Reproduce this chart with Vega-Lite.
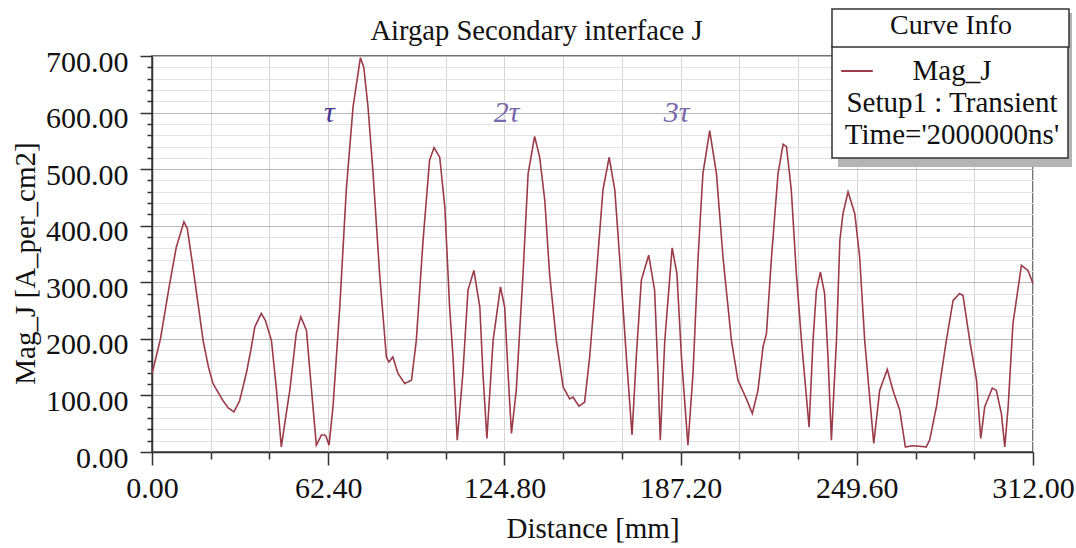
{
  "$schema": "https://vega.github.io/schema/vega-lite/v6.json",
  "width": 881,
  "height": 396,
  "autosize": "none",
  "padding": {"left": 152, "top": 56, "right": 43, "bottom": 96},
  "background": "white",
  "config": {
    "view": {"stroke": "#444", "strokeWidth": 1.5},
    "font": "Liberation Serif",
    "legend": {"strokeWidth": 1.5}
  },
  "title": {
    "text": "Airgap Secondary interface J",
    "font": "Liberation Serif",
    "fontSize": 28.6,
    "fontWeight": "normal",
    "color": "#111",
    "anchor": "middle",
    "dx": -56,
    "offset": 0,
    "dy": 60,
    "baseline": "alphabetic"
  },
  "datasets": {
    "curve": [
      {"distance": 0, "mag_j": 138, "series": "Mag_J"},
      {"distance": 3, "mag_j": 200, "series": "Mag_J"},
      {"distance": 6, "mag_j": 290, "series": "Mag_J"},
      {"distance": 8.6, "mag_j": 362, "series": "Mag_J"},
      {"distance": 10, "mag_j": 385, "series": "Mag_J"},
      {"distance": 11.3, "mag_j": 407, "series": "Mag_J"},
      {"distance": 12.5, "mag_j": 395, "series": "Mag_J"},
      {"distance": 14.5, "mag_j": 327, "series": "Mag_J"},
      {"distance": 16.5, "mag_j": 255, "series": "Mag_J"},
      {"distance": 18.1, "mag_j": 197, "series": "Mag_J"},
      {"distance": 20, "mag_j": 150, "series": "Mag_J"},
      {"distance": 21.6, "mag_j": 121, "series": "Mag_J"},
      {"distance": 25.1, "mag_j": 91, "series": "Mag_J"},
      {"distance": 27, "mag_j": 78, "series": "Mag_J"},
      {"distance": 29, "mag_j": 71, "series": "Mag_J"},
      {"distance": 31, "mag_j": 90, "series": "Mag_J"},
      {"distance": 33.4, "mag_j": 139, "series": "Mag_J"},
      {"distance": 35, "mag_j": 180, "series": "Mag_J"},
      {"distance": 36.4, "mag_j": 221, "series": "Mag_J"},
      {"distance": 38.7, "mag_j": 245, "series": "Mag_J"},
      {"distance": 40.2, "mag_j": 232, "series": "Mag_J"},
      {"distance": 42.3, "mag_j": 197, "series": "Mag_J"},
      {"distance": 44.1, "mag_j": 109, "series": "Mag_J"},
      {"distance": 45.8, "mag_j": 9, "series": "Mag_J"},
      {"distance": 47.3, "mag_j": 60, "series": "Mag_J"},
      {"distance": 48.8, "mag_j": 109, "series": "Mag_J"},
      {"distance": 51.1, "mag_j": 210, "series": "Mag_J"},
      {"distance": 52.7, "mag_j": 239, "series": "Mag_J"},
      {"distance": 54.7, "mag_j": 215, "series": "Mag_J"},
      {"distance": 56.5, "mag_j": 109, "series": "Mag_J"},
      {"distance": 58.2, "mag_j": 12, "series": "Mag_J"},
      {"distance": 59.2, "mag_j": 22, "series": "Mag_J"},
      {"distance": 60, "mag_j": 30, "series": "Mag_J"},
      {"distance": 61.2, "mag_j": 30, "series": "Mag_J"},
      {"distance": 61.7, "mag_j": 27, "series": "Mag_J"},
      {"distance": 62.7, "mag_j": 12, "series": "Mag_J"},
      {"distance": 64.1, "mag_j": 80, "series": "Mag_J"},
      {"distance": 66.5, "mag_j": 256, "series": "Mag_J"},
      {"distance": 68.8, "mag_j": 463, "series": "Mag_J"},
      {"distance": 71.2, "mag_j": 610, "series": "Mag_J"},
      {"distance": 73.8, "mag_j": 697, "series": "Mag_J"},
      {"distance": 75, "mag_j": 680, "series": "Mag_J"},
      {"distance": 76.5, "mag_j": 610, "series": "Mag_J"},
      {"distance": 78.3, "mag_j": 492, "series": "Mag_J"},
      {"distance": 80.6, "mag_j": 315, "series": "Mag_J"},
      {"distance": 83, "mag_j": 168, "series": "Mag_J"},
      {"distance": 83.9, "mag_j": 159, "series": "Mag_J"},
      {"distance": 85.3, "mag_j": 168, "series": "Mag_J"},
      {"distance": 87.1, "mag_j": 139, "series": "Mag_J"},
      {"distance": 89.5, "mag_j": 121, "series": "Mag_J"},
      {"distance": 91.9, "mag_j": 127, "series": "Mag_J"},
      {"distance": 93.6, "mag_j": 197, "series": "Mag_J"},
      {"distance": 96, "mag_j": 374, "series": "Mag_J"},
      {"distance": 98.3, "mag_j": 516, "series": "Mag_J"},
      {"distance": 99.9, "mag_j": 538, "series": "Mag_J"},
      {"distance": 101.9, "mag_j": 521, "series": "Mag_J"},
      {"distance": 103.7, "mag_j": 433, "series": "Mag_J"},
      {"distance": 105.4, "mag_j": 256, "series": "Mag_J"},
      {"distance": 106.6, "mag_j": 168, "series": "Mag_J"},
      {"distance": 108.1, "mag_j": 21, "series": "Mag_J"},
      {"distance": 110.1, "mag_j": 139, "series": "Mag_J"},
      {"distance": 111.9, "mag_j": 286, "series": "Mag_J"},
      {"distance": 114, "mag_j": 321, "series": "Mag_J"},
      {"distance": 116.1, "mag_j": 256, "series": "Mag_J"},
      {"distance": 117.2, "mag_j": 139, "series": "Mag_J"},
      {"distance": 118.6, "mag_j": 24, "series": "Mag_J"},
      {"distance": 120.8, "mag_j": 197, "series": "Mag_J"},
      {"distance": 123.4, "mag_j": 292, "series": "Mag_J"},
      {"distance": 124.9, "mag_j": 256, "series": "Mag_J"},
      {"distance": 126.1, "mag_j": 139, "series": "Mag_J"},
      {"distance": 127.3, "mag_j": 33, "series": "Mag_J"},
      {"distance": 129, "mag_j": 109, "series": "Mag_J"},
      {"distance": 131.4, "mag_j": 315, "series": "Mag_J"},
      {"distance": 133.2, "mag_j": 492, "series": "Mag_J"},
      {"distance": 135.5, "mag_j": 558, "series": "Mag_J"},
      {"distance": 137.3, "mag_j": 521, "series": "Mag_J"},
      {"distance": 139.1, "mag_j": 445, "series": "Mag_J"},
      {"distance": 140.8, "mag_j": 315, "series": "Mag_J"},
      {"distance": 143.2, "mag_j": 197, "series": "Mag_J"},
      {"distance": 145.6, "mag_j": 115, "series": "Mag_J"},
      {"distance": 147.9, "mag_j": 94, "series": "Mag_J"},
      {"distance": 149.1, "mag_j": 97, "series": "Mag_J"},
      {"distance": 151.2, "mag_j": 81, "series": "Mag_J"},
      {"distance": 153.2, "mag_j": 88, "series": "Mag_J"},
      {"distance": 155, "mag_j": 168, "series": "Mag_J"},
      {"distance": 157.4, "mag_j": 315, "series": "Mag_J"},
      {"distance": 159.7, "mag_j": 463, "series": "Mag_J"},
      {"distance": 161.9, "mag_j": 521, "series": "Mag_J"},
      {"distance": 163.9, "mag_j": 463, "series": "Mag_J"},
      {"distance": 165.6, "mag_j": 345, "series": "Mag_J"},
      {"distance": 168, "mag_j": 168, "series": "Mag_J"},
      {"distance": 170, "mag_j": 30, "series": "Mag_J"},
      {"distance": 171.5, "mag_j": 168, "series": "Mag_J"},
      {"distance": 173.3, "mag_j": 304, "series": "Mag_J"},
      {"distance": 175.9, "mag_j": 348, "series": "Mag_J"},
      {"distance": 178, "mag_j": 286, "series": "Mag_J"},
      {"distance": 179.2, "mag_j": 139, "series": "Mag_J"},
      {"distance": 180, "mag_j": 21, "series": "Mag_J"},
      {"distance": 181.6, "mag_j": 197, "series": "Mag_J"},
      {"distance": 184.2, "mag_j": 361, "series": "Mag_J"},
      {"distance": 185.9, "mag_j": 315, "series": "Mag_J"},
      {"distance": 187.5, "mag_j": 168, "series": "Mag_J"},
      {"distance": 189.8, "mag_j": 12, "series": "Mag_J"},
      {"distance": 191.6, "mag_j": 139, "series": "Mag_J"},
      {"distance": 193.4, "mag_j": 345, "series": "Mag_J"},
      {"distance": 195.1, "mag_j": 492, "series": "Mag_J"},
      {"distance": 197.5, "mag_j": 568, "series": "Mag_J"},
      {"distance": 199.9, "mag_j": 492, "series": "Mag_J"},
      {"distance": 202.2, "mag_j": 345, "series": "Mag_J"},
      {"distance": 205.2, "mag_j": 197, "series": "Mag_J"},
      {"distance": 207.5, "mag_j": 127, "series": "Mag_J"},
      {"distance": 210.5, "mag_j": 94, "series": "Mag_J"},
      {"distance": 212.6, "mag_j": 68, "series": "Mag_J"},
      {"distance": 214.6, "mag_j": 109, "series": "Mag_J"},
      {"distance": 216.4, "mag_j": 186, "series": "Mag_J"},
      {"distance": 217.6, "mag_j": 209, "series": "Mag_J"},
      {"distance": 219.4, "mag_j": 345, "series": "Mag_J"},
      {"distance": 221.7, "mag_j": 492, "series": "Mag_J"},
      {"distance": 223.5, "mag_j": 544, "series": "Mag_J"},
      {"distance": 224.7, "mag_j": 540, "series": "Mag_J"},
      {"distance": 226.4, "mag_j": 463, "series": "Mag_J"},
      {"distance": 228.2, "mag_j": 315, "series": "Mag_J"},
      {"distance": 230, "mag_j": 197, "series": "Mag_J"},
      {"distance": 232.7, "mag_j": 44, "series": "Mag_J"},
      {"distance": 234.1, "mag_j": 197, "series": "Mag_J"},
      {"distance": 235.3, "mag_j": 286, "series": "Mag_J"},
      {"distance": 236.7, "mag_j": 318, "series": "Mag_J"},
      {"distance": 238.2, "mag_j": 280, "series": "Mag_J"},
      {"distance": 239.4, "mag_j": 168, "series": "Mag_J"},
      {"distance": 240.6, "mag_j": 21, "series": "Mag_J"},
      {"distance": 242.4, "mag_j": 197, "series": "Mag_J"},
      {"distance": 243.6, "mag_j": 374, "series": "Mag_J"},
      {"distance": 244.7, "mag_j": 421, "series": "Mag_J"},
      {"distance": 246.5, "mag_j": 460, "series": "Mag_J"},
      {"distance": 248.9, "mag_j": 421, "series": "Mag_J"},
      {"distance": 250.6, "mag_j": 345, "series": "Mag_J"},
      {"distance": 252.4, "mag_j": 197, "series": "Mag_J"},
      {"distance": 255.6, "mag_j": 15, "series": "Mag_J"},
      {"distance": 257.7, "mag_j": 109, "series": "Mag_J"},
      {"distance": 260.4, "mag_j": 146, "series": "Mag_J"},
      {"distance": 262.4, "mag_j": 109, "series": "Mag_J"},
      {"distance": 264.8, "mag_j": 74, "series": "Mag_J"},
      {"distance": 266.8, "mag_j": 9, "series": "Mag_J"},
      {"distance": 269.5, "mag_j": 11, "series": "Mag_J"},
      {"distance": 274.2, "mag_j": 9, "series": "Mag_J"},
      {"distance": 275.4, "mag_j": 21, "series": "Mag_J"},
      {"distance": 277.8, "mag_j": 80, "series": "Mag_J"},
      {"distance": 281.3, "mag_j": 197, "series": "Mag_J"},
      {"distance": 283.7, "mag_j": 268, "series": "Mag_J"},
      {"distance": 286, "mag_j": 280, "series": "Mag_J"},
      {"distance": 287.2, "mag_j": 277, "series": "Mag_J"},
      {"distance": 289.6, "mag_j": 197, "series": "Mag_J"},
      {"distance": 292, "mag_j": 127, "series": "Mag_J"},
      {"distance": 293.5, "mag_j": 24, "series": "Mag_J"},
      {"distance": 294.9, "mag_j": 80, "series": "Mag_J"},
      {"distance": 297.6, "mag_j": 113, "series": "Mag_J"},
      {"distance": 299, "mag_j": 109, "series": "Mag_J"},
      {"distance": 300.8, "mag_j": 68, "series": "Mag_J"},
      {"distance": 302, "mag_j": 9, "series": "Mag_J"},
      {"distance": 303.2, "mag_j": 80, "series": "Mag_J"},
      {"distance": 304.9, "mag_j": 227, "series": "Mag_J"},
      {"distance": 307.9, "mag_j": 330, "series": "Mag_J"},
      {"distance": 310.2, "mag_j": 321, "series": "Mag_J"},
      {"distance": 312, "mag_j": 298, "series": "Mag_J"}
    ],
    "marks": [
      {"distance": 62.8, "mag_j": 583, "t": "τ"},
      {"distance": 125.6, "mag_j": 583, "t": "2τ"},
      {"distance": 185.8, "mag_j": 583, "t": "3τ"}
    ]
  },
  "encoding": {
    "x": {
      "field": "distance",
      "type": "quantitative",
      "scale": {"domain": [0, 312], "nice": false, "zero": false},
      "axis": {
        "title": "Distance [mm]",
        "values": [0, 20.8, 41.6, 62.4, 83.2, 104, 124.8, 145.6, 166.4, 187.2, 208, 228.8, 249.6, 270.4, 291.2, 312],
        "labelExpr": "abs(datum.value/62.4 - round(datum.value/62.4)) < 0.01 ? format(datum.value, '.2f') : ''",
        "labelFont": "Liberation Serif",
        "labelFontSize": 30,
        "labelColor": "#111",
        "labelBaseline": "alphabetic",
        "labelPadding": 32,
        "labelOverlap": false,
        "labelFlush": false,
        "tickSize": {"condition": {"test": "abs(datum.value/62.4 - round(datum.value/62.4)) < 0.01", "value": 13}, "value": 7},
        "tickColor": "#333",
        "tickWidth": 1.5,
        "domainColor": "#333",
        "domainWidth": 1.5,
        "grid": true,
        "gridColor": "#d4d4d4",
        "gridWidth": 1,
        "titleFont": "Liberation Serif",
        "titleFontSize": 29,
        "titleFontWeight": "normal",
        "titleColor": "#111",
        "titleBaseline": "alphabetic",
        "titleY": 85
      }
    },
    "y": {
      "field": "mag_j",
      "type": "quantitative",
      "scale": {"domain": [0, 700], "nice": false, "zero": true},
      "axis": {
        "title": "Mag_J [A_per_cm2]",
        "values": [0, 20, 40, 60, 80, 100, 120, 140, 160, 180, 200, 220, 240, 260, 280, 300, 320, 340, 360, 380, 400, 420, 440, 460, 480, 500, 520, 540, 560, 580, 600, 620, 640, 660, 680, 700],
        "labelExpr": "datum.value % 100 == 0 ? format(datum.value, '.2f') : ''",
        "labelFont": "Liberation Serif",
        "labelFontSize": 30,
        "labelColor": "#111",
        "labelBaseline": "alphabetic",
        "labelOffset": 15,
        "labelPadding": 12,
        "labelOverlap": false,
        "labelFlush": false,
        "tickSize": {"condition": {"test": "datum.value % 100 == 0", "value": 12}, "value": 5},
        "tickColor": "#333",
        "tickWidth": 1.5,
        "domainColor": "#333",
        "domainWidth": 1.5,
        "grid": true,
        "gridColor": {"condition": {"test": "datum.value % 100 == 0", "value": "#b8b8b8"}, "value": "#e2e2e2"},
        "gridWidth": 1,
        "titleFont": "Liberation Serif",
        "titleFontSize": 29,
        "titleFontWeight": "normal",
        "titleColor": "#111",
        "titleBaseline": "alphabetic",
        "titleX": -118,
        "titleY": 207
      }
    }
  },
  "layer": [
    {
      "data": {"name": "curve"},
      "mark": {"type": "line", "color": "#9b3b49", "strokeWidth": 1.6},
      "encoding": {
        "color": {
          "field": "series",
          "type": "nominal",
          "scale": {
            "domain": ["Setup1 : Transient", "Mag_J", "Time='2000000ns'"],
            "range": ["rgba(255,255,255,0)", "#9b3b49", "rgba(255,255,255,0)"]
          },
          "legend": {
            "orient": "none",
            "legendX": 686,
            "legendY": -43,
            "direction": "vertical",
            "values": ["Setup1 : Transient"],
            "title": null,
            "labelExpr": "'.'",
            "labelFont": "Liberation Serif",
            "labelFontSize": 10,
            "labelColor": "rgba(0,0,0,0)",
            "labelOffset": 77,
            "symbolType": "square",
            "symbolSize": 23716,
            "symbolStrokeWidth": 0,
            "symbolOpacity": 0,
            "padding": 0,
            "fillColor": "#b4b4b4",
            "strokeColor": "rgba(0,0,0,0)"
          }
        },
        "strokeDash": {
          "field": "series",
          "type": "nominal",
          "scale": {
            "domain": ["Mag_J", "Setup1 : Transient", "Time='2000000ns'"],
            "range": [[1, 0], [0, 1000], [0, 1000]]
          },
          "legend": {
            "orient": "none",
            "legendX": 680,
            "legendY": -10,
            "direction": "vertical",
            "title": null,
            "labelFont": "Liberation Serif",
            "labelFontSize": 29,
            "labelColor": "#111",
            "labelAlign": "center",
            "labelOffset": 78,
            "labelLimit": 400,
            "symbolType": "stroke",
            "symbolSize": 1000,
            "symbolStrokeWidth": 2,
            "symbolStrokeColor": "#9b3b49",
            "rowPadding": 0,
            "padding": 8,
            "fillColor": "white",
            "strokeColor": "#333"
          }
        },
        "opacity": {
          "field": "series",
          "type": "nominal",
          "scale": {
            "domain": ["Time='2000000ns'", "Mag_J", "Setup1 : Transient"],
            "range": [1, 1, 1]
          },
          "legend": {
            "orient": "none",
            "legendX": 680,
            "legendY": -47,
            "direction": "vertical",
            "values": ["Time='2000000ns'"],
            "title": "Curve Info",
            "titleFont": "Liberation Serif",
            "titleFontSize": 28,
            "titleFontWeight": "normal",
            "titleColor": "#111",
            "titleAnchor": "middle",
            "titlePadding": 0,
            "labelExpr": "'.'",
            "labelFont": "Liberation Serif",
            "labelFontSize": 4,
            "labelColor": "rgba(0,0,0,0)",
            "labelOffset": 226,
            "symbolType": "circle",
            "symbolSize": 1,
            "symbolStrokeWidth": 0,
            "symbolOpacity": 0,
            "symbolFillColor": "rgba(0,0,0,0)",
            "symbolStrokeColor": "rgba(0,0,0,0)",
            "padding": 3,
            "fillColor": "white",
            "strokeColor": "#333"
          }
        }
      }
    },
    {
      "data": {"name": "marks"},
      "mark": {"type": "text", "font": "Liberation Serif", "fontSize": 30, "fontStyle": "italic", "baseline": "alphabetic", "align": "center"},
      "encoding": {
        "text": {"field": "t"},
        "color": {"condition": {"test": "datum.t == 'τ'", "value": "#4a3590"}, "value": "#7b68aa"}
      }
    }
  ]
}
